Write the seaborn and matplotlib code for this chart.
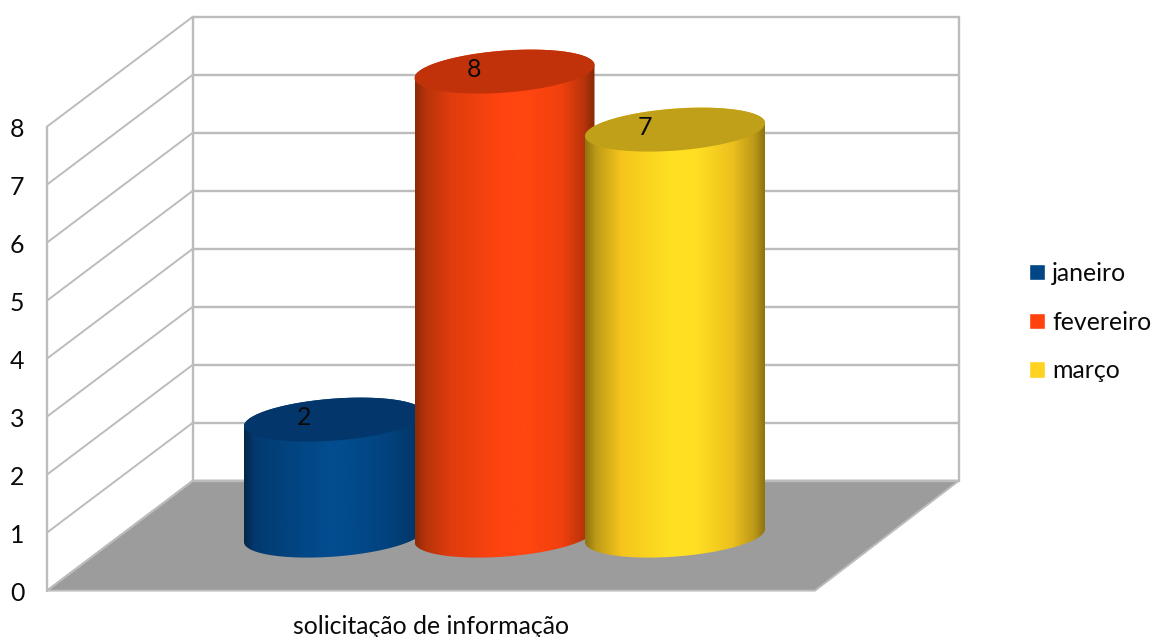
import numpy as np
import pandas as pd
import seaborn as sns
import matplotlib.pyplot as plt
from matplotlib.colors import LinearSegmentedColormap
from matplotlib.patches import Polygon

# chart values
categories = ["solicitação de informação"]
months = ["janeiro", "fevereiro", "março"]
values = [2, 8, 7]
value_ticks = [0, 1, 2, 3, 4, 5, 6, 7, 8]

df = pd.DataFrame({
    "categoria": categories * len(months),
    "mes": months,
    "valor": values,
})

base_colors = ["#004586", "#ff420e", "#ffd320"]
top_colors = ["#03366a", "#c1320a", "#bfa018"]
# left to right shading of each cylinder
grad_pos = [0.0, 0.06, 0.2, 0.48, 0.62, 0.82, 0.94, 1.0]
grad_colors = [
    ["#05264a", "#023a70", "#02417c", "#024d90", "#024a8a", "#02417c", "#02376a", "#022c56"],
    ["#8c2a08", "#b8340a", "#e03c0e", "#ff4410", "#ff4610", "#f0400e", "#b8340a", "#862808"],
    ["#8f7410", "#bd9a18", "#f5c51c", "#ffe022", "#ffdf22", "#ecc01e", "#bd9a18", "#8f7410"],
]

sns.set_style("white")
plt.rcParams["font.family"] = ["Lato", "DejaVu Sans"]
FS = 17.9
INK = "#0a0a0a"
WALL = "#bcbcbc"
FLOOR = "#9c9c9c"

fig = plt.figure(figsize=(11.52, 6.37), dpi=100)

# walls and floor, x in pixels and y in value units on the front left edge
bg = fig.add_axes([0, 0, 1, 1], zorder=1)
PX = 58.0
floor_y = 590.6
bg.set_xlim(0, 1152)
bg.set_ylim((floor_y - 637) / PX, floor_y / PX)
bg.axis("off")
front_l, back_l, back_r, front_r = 47, 193, 959, 815
depth = 110 / PX
top = value_ticks[-1]

bg.add_patch(Polygon([(front_l, 0), (back_l, depth), (back_r, depth), (front_r, 0)],
                     closed=True, fc=FLOOR, ec=WALL, lw=1.4, zorder=1))
for v in value_ticks:
    bg.plot([front_l, back_l], [v, v + depth], color=WALL, lw=1.4, zorder=2, solid_capstyle="round")
    bg.plot([back_l, back_r], [v + depth, v + depth], color=WALL, lw=1.7, zorder=2)
    bg.text(17, v - 2.5 / PX, str(v), ha="center", va="center", fontsize=FS, color=INK)
bg.plot([front_l, front_l], [0, top], color=WALL, lw=1.7, zorder=2)
bg.plot([back_l, back_l], [depth, top + depth], color=WALL, lw=1.7, zorder=2)
bg.plot([back_r, back_r], [depth, top + depth], color=WALL, lw=1.7, zorder=2)
bg.text(431, (floor_y - 626) / PX, categories[0], ha="center", va="center", fontsize=FS, color=INK)

# bars, same value scale but sitting on the middle of the floor
ax = fig.add_axes([0, 0, 1, 1], zorder=2)
ax.patch.set_visible(False)
sns.barplot(data=df, x="categoria", y="valor", hue="mes", hue_order=months,
            palette=base_colors, saturation=1, width=0.8, gap=0, dodge=True, ax=ax)
UNIT = 170.5 * len(months) / 0.8  # pixels per x unit
mid = 504.5
base = 535.6
xlim = (-mid / UNIT, (1152 - mid) / UNIT)
ylim = ((base - 637) / PX, base / PX)
ax.set_xlim(*xlim)
ax.set_ylim(*ylim)
ax.axis("off")

a = 90 / UNIT    # half width of a cylinder
b = 21 / PX      # half height of the ellipse
k = 6.5 / PX     # tilt of the ellipse


def ellipse(cx, cy, t):
    return np.column_stack([cx + a * np.cos(t), cy + b * np.sin(t) + k * np.cos(t)])


for i, container in enumerate(ax.containers):
    p = container[0]
    cx = p.get_x() + p.get_width() / 2
    h = p.get_height()
    p.set_visible(False)
    z = 3 + i
    # lower half of the floor ellipse, then straight up and over the top ellipse
    t_low = np.linspace(np.pi, 2 * np.pi, 80)
    t_up = np.linspace(0, np.pi, 80)
    body = np.vstack([ellipse(cx, 0, t_low), ellipse(cx, h, t_up)])
    clip = Polygon(body, closed=True, transform=ax.transData, fc="none", ec="none")
    ax.add_patch(clip)
    cmap = LinearSegmentedColormap.from_list(months[i], list(zip(grad_pos, grad_colors[i])))
    im = ax.imshow(np.linspace(0, 1, 256).reshape(1, -1), cmap=cmap, aspect="auto",
                   extent=(cx - a, cx + a, -1, h + 1), zorder=z)
    im.set_clip_path(clip)
    ax.add_patch(Polygon(ellipse(cx, h, np.linspace(0, 2 * np.pi, 160)), closed=True,
                         fc=top_colors[i], ec="none", zorder=z))
    ax.text(cx - 30 / UNIT, h + 2 / PX, str(values[i]), ha="center", va="center",
            fontsize=FS, color=INK, zorder=20)

ax.set_xlim(*xlim)
ax.set_ylim(*ylim)

sns.move_legend(ax, loc="center left", bbox_to_anchor=(1029 / 1152, 1 - 322 / 637),
                frameon=False, title=None, fontsize=FS, handlelength=0.64, handleheight=0.64,
                handletextpad=0.3, labelspacing=1.03, borderpad=0, borderaxespad=0)
for t in ax.get_legend().get_texts():
    t.set_color(INK)

fig.savefig("out.png", dpi=100)
